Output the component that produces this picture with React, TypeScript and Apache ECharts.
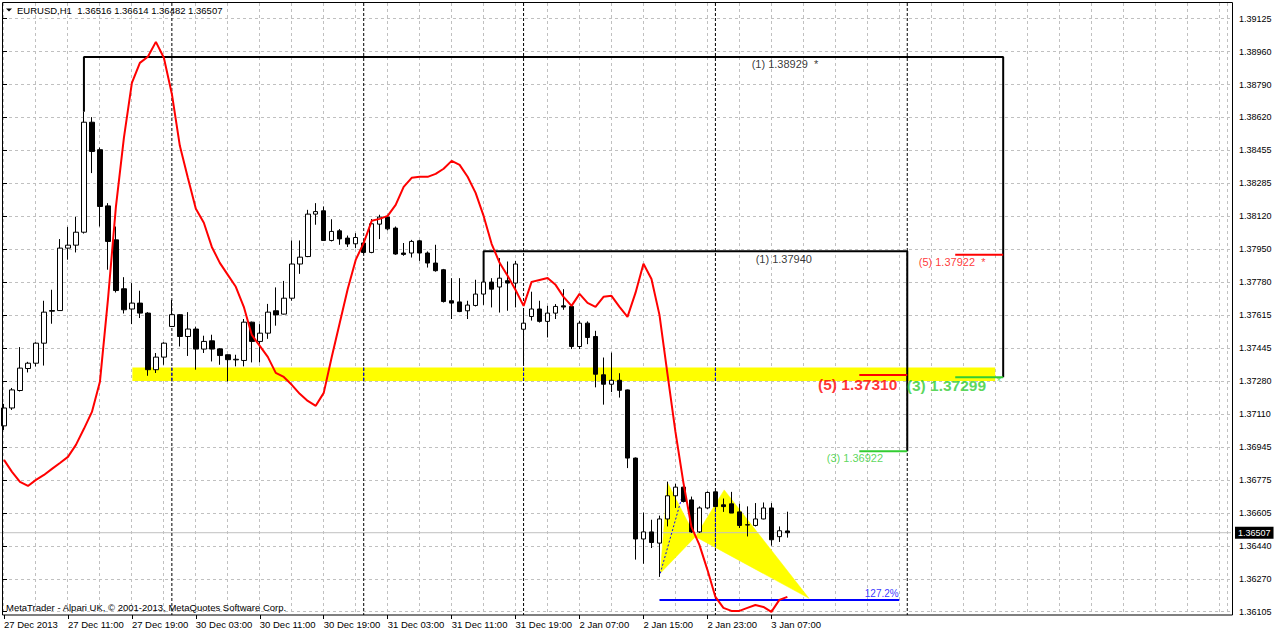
import React, { useEffect, useRef } from "react";
import * as echarts from "echarts";

const FONT = "'Liberation Sans', Arial, sans-serif";
const SLOT_COUNT = 154;

const timeLabels = [
  "27 Dec 2013", "27 Dec 11:00", "27 Dec 19:00", "30 Dec 03:00", "30 Dec 11:00",
  "30 Dec 19:00", "31 Dec 03:00", "31 Dec 11:00", "31 Dec 19:00", "2 Jan 07:00",
  "2 Jan 15:00", "2 Jan 23:00", "3 Jan 07:00",
];

const priceTicks = [
  "1.39125", "1.38960", "1.38790", "1.38620", "1.38455", "1.38285", "1.38120",
  "1.37950", "1.37780", "1.37615", "1.37445", "1.37280", "1.37110", "1.36945",
  "1.36775", "1.36605", "1.36440", "1.36270", "1.36105",
];

const opens = [
  1.37051, 1.37142, 1.37231, 1.37343, 1.37370, 1.37472, 1.37638, 1.37638, 1.37956, 1.37971,
  1.38037, 1.38597, 1.38457, 1.38171, 1.37998, 1.37749, 1.37646, 1.37676, 1.37625, 1.37337,
  1.37401, 1.37557, 1.37617, 1.37506, 1.37544, 1.37442, 1.37484, 1.37443, 1.37413, 1.37387,
  1.37384, 1.37579, 1.37481, 1.37523, 1.37637, 1.37620, 1.37701, 1.37875, 1.37913, 1.38129,
  1.38146, 1.37995, 1.38044, 1.38007, 1.37978, 1.37982, 1.37934, 1.38078, 1.38114, 1.38058,
  1.37931, 1.37931, 1.37993, 1.37931, 1.37880, 1.37846, 1.37688, 1.37682, 1.37637, 1.37664,
  1.37722, 1.37783, 1.37758, 1.37790, 1.37778, 1.37543, 1.37608, 1.37646, 1.37583, 1.37625,
  1.37662, 1.37659, 1.37455, 1.37574, 1.37506, 1.37311, 1.37263, 1.37283, 1.37234, 1.36887,
  1.36475, 1.36511, 1.36454, 1.36577, 1.36695, 1.36739, 1.36674, 1.36511, 1.36633, 1.36715,
  1.36649, 1.36654, 1.36613, 1.36546, 1.36544, 1.36577, 1.36633, 1.36487, 1.36516,
];
const highs = [
  1.37163, 1.37244, 1.37452, 1.37377, 1.37477, 1.37688, 1.37744, 1.38002, 1.38064, 1.38115,
  1.38650, 1.38623, 1.38468, 1.38185, 1.38066, 1.37808, 1.37778, 1.37739, 1.37630, 1.37422,
  1.37477, 1.37692, 1.37620, 1.37630, 1.37556, 1.37510, 1.37515, 1.37447, 1.37415, 1.37413,
  1.37595, 1.37582, 1.37569, 1.37672, 1.37756, 1.37789, 1.37995, 1.37995, 1.38151, 1.38185,
  1.38168, 1.38103, 1.38053, 1.38020, 1.38032, 1.38000, 1.38104, 1.38126, 1.38120, 1.38066,
  1.37982, 1.37998, 1.37998, 1.37939, 1.37973, 1.37850, 1.37803, 1.37803, 1.37688, 1.37795,
  1.37840, 1.37803, 1.37905, 1.37888, 1.37891, 1.37650, 1.37734, 1.37688, 1.37662, 1.37671,
  1.37747, 1.37662, 1.37586, 1.37583, 1.37535, 1.37399, 1.37424, 1.37319, 1.37236, 1.36890,
  1.36610, 1.36573, 1.36594, 1.36767, 1.36756, 1.36759, 1.36691, 1.36641, 1.36717, 1.36720,
  1.36681, 1.36715, 1.36654, 1.36641, 1.36658, 1.36661, 1.36658, 1.36539, 1.36614,
];
const lows = [
  1.37030, 1.37132, 1.37226, 1.37323, 1.37353, 1.37358, 1.37571, 1.37636, 1.37897, 1.37934,
  1.38030, 1.38338, 1.38066, 1.37846, 1.37730, 1.37623, 1.37569, 1.37600, 1.37306, 1.37320,
  1.37362, 1.37555, 1.37455, 1.37407, 1.37337, 1.37422, 1.37379, 1.37362, 1.37277, 1.37354,
  1.37354, 1.37374, 1.37374, 1.37494, 1.37561, 1.37618, 1.37688, 1.37825, 1.37910, 1.38075,
  1.37993, 1.37990, 1.37973, 1.37962, 1.37956, 1.37925, 1.37930, 1.38002, 1.38046, 1.37922,
  1.37917, 1.37908, 1.37891, 1.37857, 1.37836, 1.37679, 1.37595, 1.37630, 1.37595, 1.37659,
  1.37667, 1.37654, 1.37628, 1.37637, 1.37654, 1.37365, 1.37587, 1.37577, 1.37501, 1.37595,
  1.37642, 1.37442, 1.37442, 1.37467, 1.37247, 1.37159, 1.37223, 1.37195, 1.36836, 1.36370,
  1.36349, 1.36429, 1.36282, 1.36539, 1.36633, 1.36661, 1.36506, 1.36506, 1.36628, 1.36635,
  1.36613, 1.36607, 1.36531, 1.36488, 1.36539, 1.36575, 1.36441, 1.36460, 1.36482,
];
const closes = [
  1.37142, 1.37234, 1.37345, 1.37370, 1.37472, 1.37630, 1.37635, 1.37956, 1.37971, 1.38037,
  1.38597, 1.38448, 1.38168, 1.37990, 1.37740, 1.37642, 1.37676, 1.37625, 1.37337, 1.37401,
  1.37472, 1.37617, 1.37506, 1.37544, 1.37442, 1.37481, 1.37442, 1.37409, 1.37388, 1.37390,
  1.37579, 1.37481, 1.37523, 1.37630, 1.37616, 1.37701, 1.37875, 1.37910, 1.38129, 1.38142,
  1.37995, 1.38041, 1.38003, 1.37977, 1.38010, 1.37934, 1.38080, 1.38114, 1.38054, 1.37926,
  1.37924, 1.37990, 1.37931, 1.37880, 1.37841, 1.37684, 1.37676, 1.37633, 1.37666, 1.37722,
  1.37783, 1.37747, 1.37803, 1.37778, 1.37875, 1.37574, 1.37646, 1.37583, 1.37625, 1.37659,
  1.37656, 1.37455, 1.37574, 1.37501, 1.37314, 1.37263, 1.37283, 1.37232, 1.36887, 1.36475,
  1.36511, 1.36457, 1.36577, 1.36695, 1.36739, 1.36666, 1.36511, 1.36633, 1.36712, 1.36640,
  1.36640, 1.36607, 1.36544, 1.36548, 1.36577, 1.36633, 1.36471, 1.36517, 1.36507,
];

const redIndicator = [
  1.36878, 1.36817, 1.36766, 1.36745, 1.36776, 1.36801, 1.36832, 1.36862, 1.36893, 1.36954,
  1.37036, 1.37122, 1.37275, 1.37692, 1.38166, 1.38517, 1.38797, 1.38899, 1.38930, 1.39006,
  1.38925, 1.38741, 1.38477, 1.38314, 1.38156, 1.38085, 1.37962, 1.37881, 1.37820, 1.37759,
  1.37657, 1.37514, 1.37458, 1.37402, 1.37321, 1.37300, 1.37260, 1.37214, 1.37178, 1.37153,
  1.37219, 1.37402, 1.37575, 1.37748, 1.37896, 1.37983, 1.38095, 1.38105, 1.38120, 1.38176,
  1.38268, 1.38314, 1.38319, 1.38319, 1.38334, 1.38360, 1.38400, 1.38380, 1.38319, 1.38237,
  1.38120, 1.37978, 1.37881, 1.37815, 1.37743, 1.37662, 1.37784, 1.37794, 1.37804, 1.37769,
  1.37708, 1.37662, 1.37723, 1.37677, 1.37657, 1.37708, 1.37713, 1.37657, 1.37606, 1.37728,
  1.37876, 1.37799, 1.37616, 1.37316, 1.37020, 1.36761, 1.36537, 1.36445, 1.36318, 1.36180,
  1.36124, 1.36109, 1.36109, 1.36124, 1.36139, 1.36129, 1.36104, 1.36165, 1.36180,
];

const daySeparators = [21, 45, 65, 89, 113];
const currentPrice = 1.36507;
const headerText = "EURUSD,H1  1.36516 1.36614 1.36482 1.36507";
const footerText = "MetaTrader - Alpari UK, \u00A9 2001-2013, MetaQuotes Software Corp.";

// anchors are [bar index, price]
const supportZone = [[16.06, 1.37348], [124, 1.37280]];
const patternTriangles = [
  [[82.1, 1.36300], [83.0, 1.36762], [86.5, 1.36487]],
  [[86.5, 1.36487], [90.1, 1.36725], [100.7, 1.36173]],
];
// parts of the day separators that lie over the yellow fills (shown blue)
const separatorOverFill = [
  [21, 1.37348, 1.37280],
  [45, 1.37348, 1.37280],
  [65, 1.37348, 1.37280],
  [89, 1.37348, 1.37280],
  [89, 1.36652, 1.36432],
];
const levelLines = [
  { pts: [[10, 1.3865], [10, 1.38929], [125, 1.38929], [125, 1.37299]], color: "#000000", width: 2, dash: "solid" },
  { pts: [[60, 1.37783], [60, 1.3794], [113, 1.3794], [113, 1.36922]], color: "#000000", width: 2, dash: "solid" },
  { pts: [[119, 1.37922], [125, 1.37922]], color: "#ff0000", width: 2, dash: "solid" },
  { pts: [[107, 1.3731], [113, 1.3731]], color: "#ff0000", width: 2, dash: "solid" },
  { pts: [[119, 1.37299], [125, 1.37299]], color: "#32cd32", width: 2, dash: "solid" },
  { pts: [[107, 1.36922], [113, 1.36922]], color: "#32cd32", width: 2, dash: "solid" },
  { pts: [[82, 1.36165], [112, 1.36165]], color: "#0000ff", width: 2, dash: "solid" },
  { pts: [[82.1, 1.363], [85, 1.36716]], color: "#0000ff", width: 1, dash: "dotted" },
];
const levelTexts = [
  { at: [93.6, 1.38889], text: "(1) 1.38929  *", color: "#000000", size: 11, bold: false },
  { at: [94.1, 1.37896], text: "(1) 1.37940", color: "#000000", size: 11, bold: false },
  { at: [114.5, 1.37881], text: "(5) 1.37922  *", color: "#ff0000", size: 11, bold: false },
  { at: [101.9, 1.3726], text: "(5) 1.37310", color: "#ff0000", size: 15.5, bold: true },
  { at: [113.0, 1.37255], text: "(3) 1.37299", color: "#32cd32", size: 15.5, bold: true },
  { at: [124.25, 1.37275], text: "*", color: "#32cd32", size: 11, bold: false },
  { at: [103.0, 1.36883], text: "(3) 1.36922", color: "#32cd32", size: 11, bold: false },
  { at: [107.75, 1.36193], text: "127.2%", color: "#0000ff", size: 10, bold: false },
];

const Y_MIN = 1.36088;
const Y_MAX = 1.39204;
const GRID_DASH = { color: "#c0c0c0", type: [3, 3] as number[], width: 1 };

function buildOption() {
  const cats = Array.from({ length: SLOT_COUNT }, (_, i) => String(i));
  const candles = opens.map((o, i) => [o, closes[i], lows[i], highs[i]]);
  const showTime = (i: number) => i % 8 === 0 && i / 8 < timeLabels.length;

  const series: any[] = [];

  series.push({
    type: "line",
    xAxisIndex: 1,
    yAxisIndex: 0,
    data: [],
    z: 1,
    silent: true,
    markArea: {
      silent: true,
      itemStyle: { color: "#ffff00" },
      data: [[{ xAxis: supportZone[0][0], yAxis: supportZone[0][1] }, { xAxis: supportZone[1][0], yAxis: supportZone[1][1] }]],
    },
  });

  series.push({
    type: "custom",
    xAxisIndex: 1,
    yAxisIndex: 0,
    z: 2,
    silent: true,
    data: patternTriangles.map((t) => [t[0][0], t[0][1]]),
    renderItem: (params: any, api: any) => {
      const tri = patternTriangles[params.dataIndex];
      return {
        type: "polygon",
        shape: { points: tri.map((p) => api.coord(p)) },
        style: { fill: "#ffff00", stroke: "#ffff00", lineWidth: 0.5 },
      };
    },
  });

  // current price line (drawn under the candles)
  series.push({
    type: "line",
    xAxisIndex: 1,
    yAxisIndex: 0,
    data: [[-0.5, currentPrice], [SLOT_COUNT - 0.5, currentPrice]],
    symbol: "none",
    silent: true,
    z: 2,
    lineStyle: { color: "#c0c0c0", width: 1 },
    endLabel: {
      show: true,
      distance: 4,
      formatter: () => currentPrice.toFixed(5),
      backgroundColor: "#000000",
      color: "#ffffff",
      fontFamily: FONT,
      fontSize: 9,
      padding: [2, 3, 1, 3],
    },
  });

  daySeparators.forEach((x) => {
    series.push({
      type: "line",
      xAxisIndex: 1,
      yAxisIndex: 0,
      data: [[x, Y_MAX], [x, Y_MIN]],
      symbol: "none",
      silent: true,
      z: 3,
      lineStyle: { color: "#000000", width: 1, type: [3, 2] },
    });
  });

  separatorOverFill.forEach(([x, a, b]) => {
    series.push({
      type: "line",
      xAxisIndex: 1,
      yAxisIndex: 0,
      data: [[x, a], [x, b]],
      symbol: "none",
      silent: true,
      z: 3,
      lineStyle: { color: "#0000ff", width: 1, type: [3, 2] },
    });
  });

  levelLines.forEach((l) => {
    series.push({
      type: "line",
      xAxisIndex: 1,
      yAxisIndex: 0,
      data: l.pts,
      symbol: "none",
      silent: true,
      z: 4,
      lineStyle: { color: l.color, width: l.width, type: l.dash === "dotted" ? [2, 2] : "solid" },
    });
  });

  series.push({
    type: "candlestick",
    xAxisIndex: 0,
    yAxisIndex: 0,
    data: candles,
    barWidth: 5,
    z: 5,
    silent: true,
    itemStyle: {
      color: "#ffffff",
      color0: "#000000",
      borderColor: "#000000",
      borderColor0: "#000000",
      borderWidth: 1,
    },
  });

  series.push({
    type: "line",
    xAxisIndex: 0,
    yAxisIndex: 0,
    data: redIndicator,
    symbol: "none",
    silent: true,
    z: 6,
    lineStyle: { color: "#ff0000", width: 2 },
  });

  series.push({
    type: "scatter",
    xAxisIndex: 1,
    yAxisIndex: 0,
    symbolSize: 1,
    silent: true,
    z: 7,
    itemStyle: { color: "rgba(0,0,0,0)" },
    data: levelTexts.map((t) => ({
      value: t.at,
      label: {
        show: true,
        position: [0, 0],
        align: "left",
        verticalAlign: "middle",
        formatter: t.text,
        color: t.color,
        fontSize: t.size,
        fontWeight: t.bold ? "bold" : "normal",
        fontFamily: FONT,
      },
    })),
  });

  return {
    animation: false,
    backgroundColor: "#ffffff",
    grid: [
      { left: -1, top: 3, width: 1232, height: 612 },
      { left: 3, top: 18.6, width: 1230, height: 593.1 },
      { left: 3, top: 3, width: 1224, height: 612 },
    ],
    xAxis: [
      {
        type: "category",
        gridIndex: 0,
        data: cats,
        boundaryGap: true,
        axisLine: { show: false },
        axisTick: { show: true, alignWithLabel: true, interval: (i: number) => showTime(i), length: 4, lineStyle: { color: "#000000" } },
        axisLabel: {
          interval: (i: number) => showTime(i),
          formatter: (_v: string, i: number) => (showTime(i) ? timeLabels[i / 8] : ""),
          align: "left",
          color: "#000000",
          fontSize: 9.5,
          fontFamily: FONT,
          margin: 4,
        },
        splitLine: { show: false },
      },
      { type: "value", gridIndex: 0, min: -0.5, max: SLOT_COUNT - 0.5, show: false },
      { type: "value", gridIndex: 1, min: 0, max: 1, show: false },
      {
        type: "value",
        gridIndex: 2,
        min: 0,
        max: 153,
        interval: 4,
        axisLine: { show: false },
        axisTick: { show: false },
        axisLabel: { show: false },
        splitLine: { show: true, lineStyle: GRID_DASH },
      },
    ],
    yAxis: [
      { type: "value", gridIndex: 0, min: Y_MIN, max: Y_MAX, show: false },
      {
        type: "category",
        gridIndex: 1,
        data: priceTicks.slice().reverse(),
        boundaryGap: false,
        position: "right",
        axisLine: { show: false },
        axisTick: { show: true, length: 4, interval: 0, lineStyle: { color: "#000000" } },
        axisLabel: { interval: 0, color: "#000000", fontSize: 9, fontFamily: FONT, margin: 6 },
        splitLine: { show: true, interval: 0, lineStyle: GRID_DASH },
      },
      { type: "value", gridIndex: 2, min: 0, max: 1, show: false },
    ],
    graphic: [
      {
        type: "rect",
        z: 100,
        silent: true,
        shape: { x: 2.5, y: 2.5, width: 1230, height: 612.5 },
        style: { fill: "none", stroke: "#000000", lineWidth: 1 },
      },
      {
        type: "polygon",
        z: 100,
        silent: true,
        shape: { points: [[6, 8.5], [12, 8.5], [9, 11.5]] },
        style: { fill: "#000000" },
      },
      {
        type: "text",
        z: 100,
        silent: true,
        x: 17,
        y: 10.5,
        style: { text: headerText, fill: "#000000", fontSize: 9.5, fontFamily: FONT, verticalAlign: "middle" },
      },
      {
        type: "text",
        z: 100,
        silent: true,
        x: 6,
        y: 607,
        style: { text: footerText, fill: "#000000", fontSize: 9.5, fontFamily: FONT, verticalAlign: "middle" },
      },
    ],
    series,
  };
}

export default function App() {
  const ref = useRef<HTMLDivElement>(null);
  useEffect(() => {
    document.body.style.margin = "0";
    const chart = echarts.init(ref.current!, null, { renderer: "svg" });
    chart.setOption(buildOption() as any);
    return () => chart.dispose();
  }, []);
  return (
    <div
      ref={ref}
      style={{ position: "absolute", left: 0, top: 0, width: 1276, height: 633, background: "#ffffff" }}
    />
  );
}
